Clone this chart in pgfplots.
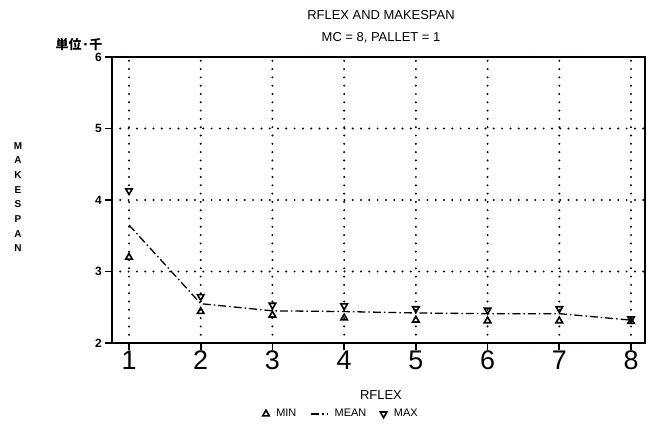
\documentclass[border=0pt]{standalone}
\usepackage{fontspec}
\setmainfont{Liberation Sans}
\newfontfamily\cjk{Noto Sans CJK JP}
\usepackage{pgfplots}
\pgfplotsset{compat=1.18}
\pgfplotsset{shortline legend/.style={legend image code/.code={\draw[##1] (0bp,0bp) -- (16bp,0bp);}}}
\begin{document}
\begin{tikzpicture}[x=1bp,y=1bp]
\path[use as bounding box] (0,0) rectangle (653,427);
\begin{axis}[
  at={(112bp,84bp)}, anchor=south west, scale only axis,
  width=533bp, height=286bp,
  xmin=0.763, xmax=8.195, ymin=2, ymax=6,
  xtick={1,2,3,4,5,6,7,8}, ytick={2,3,4,5,6},
  tick pos=left, tick align=outside, major tick length=7bp,
  grid=major,
  grid style={black, line width=2.2bp, line cap=round, dash pattern=on 0bp off 8.3bp},
  axis line style={black, line width=2.4bp},
  every tick/.style={black, line width=1.8bp},
  /pgf/number format/assume math mode=true,
  x tick label style={font=\fontsize{27}{27}\selectfont, inner sep=0.5bp},
  y tick label style={font=\bfseries\fontsize{12}{12}\selectfont, inner sep=3bp},
  legend columns=3,
  legend style={at={(0.43,-0.248)}, anchor=center, draw=none, fill=none,
    font=\fontsize{11}{11}\selectfont,
    /tikz/every odd column/.append style={column sep=5bp},
    /tikz/every even column/.append style={column sep=12bp}},
]
\addplot[only marks, black, mark=triangle, mark size=3.8, mark options={line width=1.6bp}] coordinates {
 (1,3.20) (2,2.44) (3,2.39) (4,2.35) (5,2.32) (6,2.31) (7,2.31) (8,2.30)};
\addlegendentry{MIN}
\addplot[black, line width=1.3bp, dash pattern=on 8bp off 3bp on 1.5bp off 3bp, mark=none, shortline legend] coordinates {
 (1,3.65) (2,2.55) (3,2.45) (4,2.44) (5,2.42) (6,2.41) (7,2.41) (8,2.32)};
\addlegendentry{MEAN}
\addplot[only marks, black, mark=triangle, mark size=3.8, mark options={rotate=180, line width=1.6bp}] coordinates {
 (1,4.13) (2,2.65) (3,2.53) (4,2.52) (5,2.48) (6,2.46) (7,2.48) (8,2.34)};
\addlegendentry{MAX}
\end{axis}
\node[font=\fontsize{13}{13}\selectfont] at (381,412) {RFLEX AND MAKESPAN};
\node[font=\fontsize{13}{13}\selectfont] at (381,389) {MC = 8, PALLET = 1};
\node[font=\cjk\bfseries\fontsize{13}{13}\selectfont] at (79,382) {単位·千};
\node[font=\bfseries\fontsize{10}{14.7}\selectfont, align=center] at (18,230) {M\\A\\K\\E\\S\\P\\A\\N};
\node[font=\fontsize{13}{13}\selectfont] at (381,32) {RFLEX};
\end{tikzpicture}
\end{document}
